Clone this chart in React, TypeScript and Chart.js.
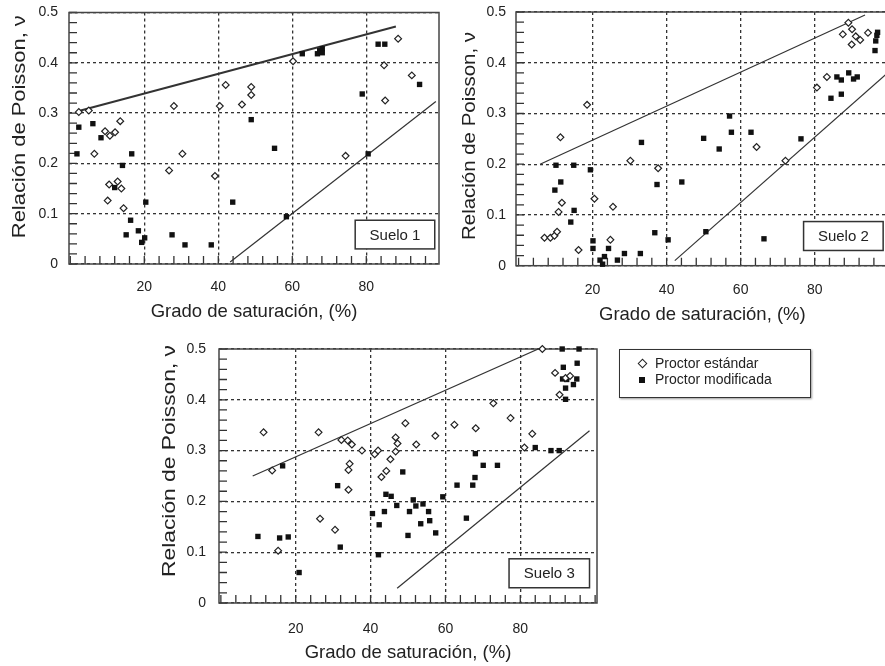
import React, { useEffect, useRef } from "react";
import { Chart, registerables } from "chart.js";

Chart.register(...registerables);

type Pt = [number, number];

const FONT = '"Liberation Sans", Arial, Helvetica, sans-serif';

// Tick labels
const xTickValues = [20, 40, 60, 80];
const yTickValues = [0, 0.1, 0.2, 0.3, 0.4, 0.5];
const xMinorStep = 4;
const yMinorStep = 0.02;

const xTitle = "Grado de saturación, (%)";
const yTitle = "Relación de Poisson, ν";
const seriesNames = ["Proctor estándar", "Proctor modificada"];

// ---------- Suelo 1 ----------
const suelo1Estandar: Pt[] = [
  [2.3, 0.302], [5.0, 0.305], [13.5, 0.284], [9.4, 0.264], [10.7, 0.255], [12.1, 0.262],
  [6.5, 0.219], [10.5, 0.158], [12.8, 0.164], [13.8, 0.15], [10.1, 0.126], [14.4, 0.111],
  [28, 0.314], [30.3, 0.219], [26.7, 0.186], [42, 0.356], [40.4, 0.314], [39.1, 0.175],
  [46.4, 0.317], [48.9, 0.352], [48.9, 0.336], [60.2, 0.403], [88.6, 0.448], [84.8, 0.395],
  [92.3, 0.375], [85.1, 0.325], [74.4, 0.215],
];
const suelo1Modificada: Pt[] = [
  [2.3, 0.272], [1.8, 0.219], [6.1, 0.279], [8.3, 0.251], [14.1, 0.196], [16.6, 0.219],
  [12, 0.152], [20.4, 0.123], [16.3, 0.087], [15.1, 0.058], [18.4, 0.066], [20.1, 0.052],
  [19.3, 0.043], [27.5, 0.058], [31, 0.038], [38.1, 0.038], [43.9, 0.123], [48.9, 0.287],
  [55.2, 0.23], [58.4, 0.094], [62.7, 0.418], [66.8, 0.418], [67.4, 0.424], [68.1, 0.428],
  [68.1, 0.42], [78.9, 0.338], [80.5, 0.219], [83.2, 0.437], [85, 0.437], [94.4, 0.357],
];
const suelo1Upper: Pt[] = [[2.8, 0.305], [88, 0.472]];
const suelo1Lower: Pt[] = [[43.2, 0.004], [98.8, 0.323]];

// ---------- Suelo 2 ----------
const suelo2Estandar: Pt[] = [
  [7, 0.055], [8.6, 0.055], [9.7, 0.059], [10.4, 0.067], [10.8, 0.106], [11.7, 0.124],
  [11.3, 0.253], [18.5, 0.317], [16.2, 0.031], [20.5, 0.132], [25.5, 0.116], [24.8, 0.051],
  [30.2, 0.207], [37.7, 0.192], [64.3, 0.234], [72.1, 0.207], [80.6, 0.351], [83.3, 0.372],
  [89.1, 0.479], [87.6, 0.456], [90.1, 0.466], [91.1, 0.452], [92.3, 0.445], [90, 0.436],
  [94.4, 0.459],
];
const suelo2Modificada: Pt[] = [
  [10.1, 0.198], [14.9, 0.198], [19.4, 0.189], [11.4, 0.165], [9.8, 0.149], [15, 0.109],
  [14.1, 0.086], [20.1, 0.049], [20.1, 0.034], [22, 0.011], [23.2, 0.018], [24.3, 0.034],
  [22.7, 0.003], [26.7, 0.011], [28.6, 0.024], [32.9, 0.024], [33.2, 0.243], [37.4, 0.16],
  [36.8, 0.065], [40.4, 0.051], [44.1, 0.165], [50, 0.251], [54.2, 0.23], [57, 0.295],
  [57.5, 0.263], [62.8, 0.263], [76.3, 0.25], [50.6, 0.067], [66.3, 0.053], [84.4, 0.33],
  [87.2, 0.338], [86, 0.372], [87.2, 0.366], [89.2, 0.38], [90.5, 0.368], [91.5, 0.372],
  [96.5, 0.443], [96.8, 0.454], [96.3, 0.424], [97, 0.46],
];
const suelo2Upper: Pt[] = [[5.8, 0.2], [93.6, 0.494]];
const suelo2Lower: Pt[] = [[42.2, 0.01], [100, 0.382]];

// ---------- Suelo 3 ----------
const suelo3Estandar: Pt[] = [
  [11.4, 0.336], [13.7, 0.261], [15.3, 0.103], [26.1, 0.336], [32.2, 0.321], [33.9, 0.32],
  [35, 0.312], [34.4, 0.274], [34.1, 0.262], [34.1, 0.223], [26.5, 0.166], [30.5, 0.144],
  [37.7, 0.3], [41.1, 0.293], [42, 0.3], [46.7, 0.326], [47.2, 0.314], [46.7, 0.298],
  [45.3, 0.283], [44.2, 0.26], [42.9, 0.248], [49.3, 0.354], [52.2, 0.312], [57.3, 0.329],
  [62.4, 0.351], [68.1, 0.344], [72.8, 0.393], [77.4, 0.364], [81.1, 0.306], [83.2, 0.333],
  [85.9, 0.5], [89.3, 0.453], [90.5, 0.41], [92.1, 0.443], [93.3, 0.447],
];
const suelo3Modificada: Pt[] = [
  [9.9, 0.131], [15.7, 0.128], [18, 0.13], [16.5, 0.27], [20.9, 0.06], [31.9, 0.11],
  [31.2, 0.231], [40.5, 0.176], [42.3, 0.154], [42.1, 0.095], [43.7, 0.18], [44.1, 0.214],
  [45.5, 0.21], [47, 0.192], [48.6, 0.258], [50, 0.133], [50.4, 0.18], [51.4, 0.203],
  [52.1, 0.191], [53.4, 0.156], [54, 0.195], [55.5, 0.18], [55.8, 0.162], [57.4, 0.138],
  [59.3, 0.209], [63.1, 0.232], [65.6, 0.167], [67.3, 0.232], [67.9, 0.247], [68, 0.294],
  [70.1, 0.271], [73.9, 0.271], [84, 0.306], [88.2, 0.3], [90.4, 0.3], [91.2, 0.5],
  [95.7, 0.5], [91.5, 0.464], [95.2, 0.472], [91.3, 0.441], [92.4, 0.44], [95.1, 0.441],
  [94.2, 0.43], [92.1, 0.423], [92.1, 0.401],
];
const suelo3Upper: Pt[] = [[8.5, 0.25], [84.8, 0.5]];
const suelo3Lower: Pt[] = [[47.1, 0.029], [98.5, 0.339]];

// Label box in data units
const labelBoxX: Pt = [77, 98.5];
const labelBoxY: Pt = [0.03, 0.087];

type Geom = {
  W: number; H: number; L: number; T: number; R: number; B: number;
  xMin: number; xMax: number; xPad: number; yPad: number; xTitleY: number;
  yTitleCx: number; yTitleCy: number; yTitleLen: number; upperWidth: number;
};

// canvases are shifted up by this amount so the top label padding never pushes the plot area
const OY = 30;

const toXY = (pts: Pt[]) => pts.map(([x, y]) => ({ x, y }));

function PoissonChart(props: {
  geom: Geom; estandar: Pt[]; modificada: Pt[]; upper: Pt[]; lower: Pt[]; label: string;
}) {
  const ref = useRef<HTMLCanvasElement>(null);
  const H = props.geom.H + OY;
  useEffect(() => {
    const { geom: g, estandar, modificada, upper, lower, label } = props;
    const canvas = ref.current!;
    const yAxisW = 40;
    const titleSize = 18.5;
    const T = g.T + OY;
    const B = g.B + OY;
    const xAxisH = g.xTitleY + OY + (titleSize * 1.2) / 2 - B;

    const decor = {
      id: "decor",
      beforeDatasetsDraw(chart: any) {
        const { ctx, chartArea: a, scales } = chart;
        const x = scales.x, y = scales.y;
        ctx.save();
        ctx.strokeStyle = "#333";
        ctx.lineWidth = 1.3;
        ctx.beginPath();
        for (let v = 0; v <= 100 + 1e-6; v += xMinorStep) {
          const px = x.getPixelForValue(v);
          if (px < a.left || px > a.right) continue;
          ctx.moveTo(px, a.bottom);
          ctx.lineTo(px, a.bottom - 8);
        }
        for (let v = 0; v <= 0.5 + 1e-6; v += yMinorStep) {
          const py = y.getPixelForValue(v);
          ctx.moveTo(a.left, py);
          ctx.lineTo(a.left + 8, py);
        }
        ctx.stroke();
        ctx.strokeStyle = "#444";
        ctx.lineWidth = 1.5;
        ctx.strokeRect(a.left, a.top, a.right - a.left, a.bottom - a.top);
        ctx.restore();
      },
      afterDatasetsDraw(chart: any) {
        const { ctx, scales } = chart;
        const x = scales.x, y = scales.y;
        const x0 = x.getPixelForValue(labelBoxX[0]);
        const x1 = x.getPixelForValue(labelBoxX[1]);
        const y0 = y.getPixelForValue(labelBoxY[1]);
        const y1 = y.getPixelForValue(labelBoxY[0]);
        ctx.save();
        ctx.fillStyle = "#fff";
        ctx.fillRect(x0, y0, x1 - x0, y1 - y0);
        ctx.strokeStyle = "#333";
        ctx.lineWidth = 1.5;
        ctx.strokeRect(x0, y0, x1 - x0, y1 - y0);
        ctx.fillStyle = "#222";
        ctx.font = `15px ${FONT}`;
        ctx.textAlign = "center";
        ctx.textBaseline = "middle";
        ctx.fillText(label, (x0 + x1) / 2, (y0 + y1) / 2 + 1);
        ctx.restore();
      },
      afterDraw(chart: any) {
        const { ctx } = chart;
        ctx.save();
        ctx.translate(g.yTitleCx, g.yTitleCy + OY);
        ctx.rotate(-Math.PI / 2);
        ctx.font = `18.5px ${FONT}`;
        const w = ctx.measureText(yTitle).width;
        ctx.scale(g.yTitleLen / w, 1);
        ctx.fillStyle = "#222";
        ctx.textAlign = "center";
        ctx.textBaseline = "middle";
        ctx.fillText(yTitle, 0, 0);
        ctx.restore();
      },
    };

    const chart = new Chart(canvas, {
      type: "scatter",
      data: {
        datasets: [
          {
            label: seriesNames[0],
            data: toXY(estandar),
            pointStyle: "rectRot",
            pointRadius: 3.4,
            pointBorderColor: "#222",
            pointBackgroundColor: "#fff",
            pointBorderWidth: 1.2,
            clip: false,
          } as any,
          {
            label: seriesNames[1],
            data: toXY(modificada),
            pointStyle: "rect",
            pointRadius: 3.8,
            pointBorderColor: "#111",
            pointBackgroundColor: "#111",
            pointBorderWidth: 0,
            clip: false,
          } as any,
          {
            label: "upper",
            data: toXY(upper),
            showLine: true,
            pointRadius: 0,
            borderColor: "#333",
            borderWidth: g.upperWidth,
          } as any,
          {
            label: "lower",
            data: toXY(lower),
            showLine: true,
            pointRadius: 0,
            borderColor: "#333",
            borderWidth: 1.2,
          } as any,
        ],
      },
      options: {
        responsive: false,
        animation: false,
        devicePixelRatio: 1,
        layout: {
          padding: {
            left: g.L - yAxisW,
            top: T,
            right: g.W - g.R,
            bottom: g.H + OY - B - xAxisH,
          },
        },
        plugins: { legend: { display: false }, tooltip: { enabled: false } },
        scales: {
          x: {
            type: "linear",
            position: "bottom",
            min: g.xMin,
            max: g.xMax,
            afterBuildTicks: (s: any) => {
              s.ticks = xTickValues.map((v) => ({ value: v }));
            },
            afterFit: (s: any) => {
              s.height = xAxisH;
            },
            ticks: {
              padding: g.xPad,
              color: "#222",
              font: { family: FONT, size: 14 },
              autoSkip: false,
              maxRotation: 0,
              callback: (v: any) => String(v),
            },
            grid: { color: "#333", lineWidth: 1.3, drawTicks: false, borderDash: [3, 3] } as any,
            border: { display: false, dash: [3, 3] },
            title: {
              display: true,
              text: xTitle,
              color: "#222",
              font: { family: FONT, size: titleSize },
              padding: 0,
            },
          },
          y: {
            type: "linear",
            position: "left",
            min: 0,
            max: 0.5,
            afterBuildTicks: (s: any) => {
              s.ticks = yTickValues.map((v) => ({ value: v }));
            },
            afterFit: (s: any) => {
              s.width = yAxisW;
            },
            ticks: {
              padding: g.yPad,
              color: "#222",
              font: { family: FONT, size: 14 },
              autoSkip: false,
              callback: (v: any) => (v === 0 ? "0" : Number(v).toFixed(1)),
            },
            grid: { color: "#333", lineWidth: 1.3, drawTicks: false, borderDash: [3, 3] } as any,
            border: { display: false, dash: [3, 3] },
          },
        },
      },
      plugins: [decor],
    } as any);
    return () => chart.destroy();
  }, []);
  return (
    <canvas
      ref={ref}
      width={props.geom.W}
      height={H}
      style={{ position: "absolute", left: 0, top: -OY, width: props.geom.W, height: H }}
    />
  );
}

const geom1: Geom = {
  W: 460, H: 340, L: 69, T: 12.5, R: 439, B: 264, xMin: -0.35, xMax: 99.65,
  xPad: 15, yPad: 11, xTitleY: 311.6, yTitleCx: 20, yTitleCy: 126.7, yTitleLen: 223, upperWidth: 2,
};
const geom2: Geom = {
  W: 900, H: 340, L: 516, T: 12, R: 888.7, B: 265.7, xMin: -0.7, xMax: 100,
  xPad: 16, yPad: 10, xTitleY: 315, yTitleCx: 469.7, yTitleCy: 136, yTitleLen: 208, upperWidth: 1.2,
};
const geom3: Geom = {
  W: 620, H: 666, L: 219, T: 349, R: 597, B: 603, xMin: -0.5, xMax: 100.5,
  xPad: 18, yPad: 13, xTitleY: 652.7, yTitleCx: 170, yTitleCy: 461, yTitleLen: 232, upperWidth: 1.2,
};

function Legend() {
  return (
    <div
      style={{
        position: "absolute",
        left: 619,
        top: 349,
        width: 190,
        height: 47,
        border: "1.5px solid #333",
        boxShadow: "1px 1px 2px #999",
        background: "#fff",
        fontFamily: FONT,
        fontSize: 14,
        color: "#222",
      }}
    >
      <div style={{ position: "absolute", left: 19, top: 10, width: 5, height: 5, border: "1.3px solid #222", transform: "rotate(45deg)" }} />
      <div style={{ position: "absolute", left: 35, top: 5, lineHeight: "16px", whiteSpace: "nowrap" }}>{seriesNames[0]}</div>
      <div style={{ position: "absolute", left: 19, top: 27, width: 6, height: 6, background: "#111" }} />
      <div style={{ position: "absolute", left: 35, top: 21, lineHeight: "16px", whiteSpace: "nowrap" }}>{seriesNames[1]}</div>
    </div>
  );
}

export default function App() {
  return (
    <div
      style={{
        position: "absolute",
        left: 0,
        top: 0,
        width: 885,
        height: 666,
        overflow: "hidden",
        background: "#fff",
      }}
    >
      <PoissonChart geom={geom1} estandar={suelo1Estandar} modificada={suelo1Modificada} upper={suelo1Upper} lower={suelo1Lower} label="Suelo 1" />
      <PoissonChart geom={geom2} estandar={suelo2Estandar} modificada={suelo2Modificada} upper={suelo2Upper} lower={suelo2Lower} label="Suelo 2" />
      <PoissonChart geom={geom3} estandar={suelo3Estandar} modificada={suelo3Modificada} upper={suelo3Upper} lower={suelo3Lower} label="Suelo 3" />
      <Legend />
    </div>
  );
}
